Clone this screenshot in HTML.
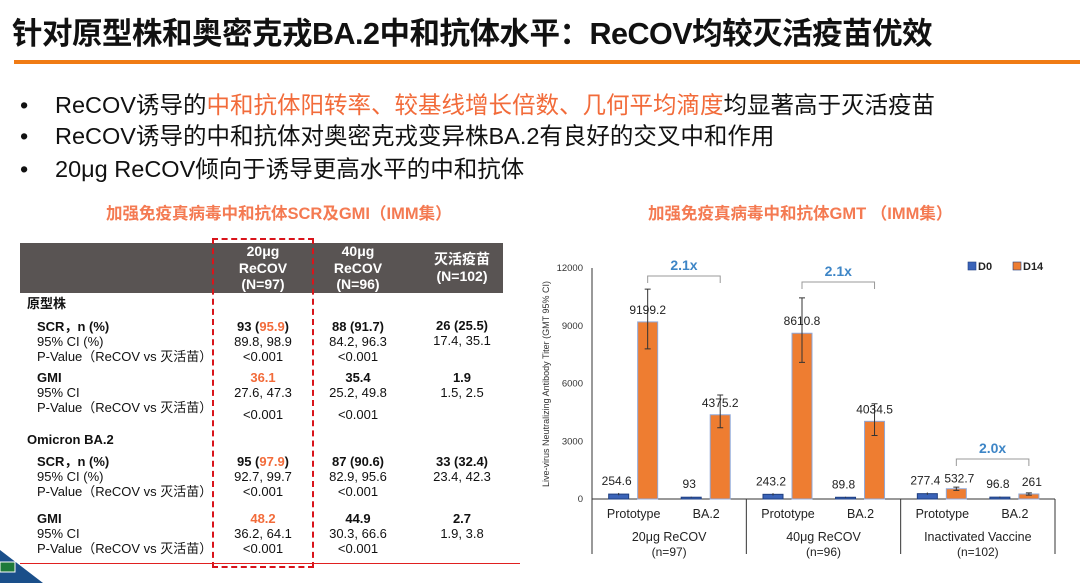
<!DOCTYPE html>
<html><head><meta charset="utf-8"><style>
*{margin:0;padding:0;box-sizing:border-box}
body{width:1080px;height:583px;background:#fff;position:relative;overflow:hidden;font-family:"Liberation Sans","Noto Sans CJK SC",sans-serif;color:#111}
.a{position:absolute;white-space:nowrap}
.c{text-align:center;transform:translateX(-50%)}
.or{color:#f26b3a}
.t{font-size:13px;line-height:15px}
.b{font-weight:bold}
</style></head><body>
<div class="a b" style="left:12px;top:9px;font-size:30.5px;letter-spacing:-0.5px">针对原型株和奥密克戎BA.2中和抗体水平：ReCOV均较灭活疫苗优效</div>
<div class="a" style="left:14px;top:60px;width:1066px;height:4px;background:#f07b14"></div>
<div class="a" style="left:20px;top:86px;font-size:23.5px"><span style="display:inline-block;width:35px">•</span>ReCOV诱导的<span class="or">中和抗体阳转率、较基线增长倍数、几何平均滴度</span>均显著高于灭活疫苗</div>
<div class="a" style="left:20px;top:117px;font-size:23.5px"><span style="display:inline-block;width:35px">•</span>ReCOV诱导的中和抗体对奥密克戎变异株BA.2有良好的交叉中和作用</div>
<div class="a" style="left:20px;top:150px;font-size:23.5px"><span style="display:inline-block;width:35px">•</span>20μg ReCOV倾向于诱导更高水平的中和抗体</div>
<div class="a b or" style="left:106px;top:200px;font-size:16.5px;color:#f47a52">加强免疫真病毒中和抗体SCR及GMI（IMM集）</div>
<div class="a b or" style="left:648px;top:200px;font-size:16.5px;color:#f47a52">加强免疫真病毒中和抗体GMT （IMM集）</div>

<div class="a" style="left:20px;top:243px;width:483px;height:50px;background:#595453"></div>
<div class="a c b" style="left:263px;top:243px;color:#fff;font-size:14px;line-height:16.5px">20μg<br>ReCOV<br>(N=97)</div>
<div class="a c b" style="left:358px;top:243px;color:#fff;font-size:14px;line-height:16.5px">40μg<br>ReCOV<br>(N=96)</div>
<div class="a c b" style="left:462px;top:251px;color:#fff;font-size:14px;line-height:16.5px">灭活疫苗<br>(N=102)</div>
<div class="a" style="left:212px;top:238px;width:102px;height:330px;border:2px dashed #d9141b"></div>

<div class="a b t" style="left:27px;top:296px">原型株</div>
<div class="a t" style="left:37px;top:319px"><b>SCR，n (%)</b><br>95% CI (%)<br>P-Value（ReCOV vs 灭活苗）</div>
<div class="a t" style="left:37px;top:370px"><b>GMI</b><br>95% CI<br>P-Value（ReCOV vs 灭活苗）</div>
<div class="a b t" style="left:27px;top:432px">Omicron BA.2</div>
<div class="a t" style="left:37px;top:454px"><b>SCR，n (%)</b><br>95% CI (%)<br>P-Value（ReCOV vs 灭活苗）</div>
<div class="a t" style="left:37px;top:511px"><b>GMI</b><br>95% CI<br>P-Value（ReCOV vs 灭活苗）</div>

<div class="a c t" style="left:263px;top:319px"><b>93 (<span class="or">95.9</span>)</b><br>89.8, 98.9<br>&lt;0.001</div>
<div class="a c t" style="left:358px;top:319px"><b>88 (91.7)</b><br>84.2, 96.3<br>&lt;0.001</div>
<div class="a c t" style="left:462px;top:318px"><b>26 (25.5)</b><br>17.4, 35.1</div>
<div class="a c t" style="left:263px;top:370px"><b class="or">36.1</b><br>27.6, 47.3</div>
<div class="a c t" style="left:358px;top:370px"><b>35.4</b><br>25.2, 49.8</div>
<div class="a c t" style="left:462px;top:370px"><b>1.9</b><br>1.5, 2.5</div>
<div class="a c t" style="left:263px;top:407px">&lt;0.001</div>
<div class="a c t" style="left:358px;top:407px">&lt;0.001</div>
<div class="a c t" style="left:263px;top:454px"><b>95 (<span class="or">97.9</span>)</b><br>92.7, 99.7<br>&lt;0.001</div>
<div class="a c t" style="left:358px;top:454px"><b>87 (90.6)</b><br>82.9, 95.6<br>&lt;0.001</div>
<div class="a c t" style="left:462px;top:454px"><b>33 (32.4)</b><br>23.4, 42.3</div>
<div class="a c t" style="left:263px;top:511px"><b class="or">48.2</b><br>36.2, 64.1<br>&lt;0.001</div>
<div class="a c t" style="left:358px;top:511px"><b>44.9</b><br>30.3, 66.6<br>&lt;0.001</div>
<div class="a c t" style="left:462px;top:511px"><b>2.7</b><br>1.9, 3.8</div>
<div class="a" style="left:20px;top:563px;width:500px;height:1px;background:#e02020"></div>
<svg class="a" style="left:0;top:0" width="60" height="583"><polygon points="0,550 0,583 43,583" fill="#1a4f8a"/><rect x="0" y="562" width="15" height="10" fill="#1e7a3a" stroke="#fff" stroke-width="1"/></svg>

<svg id="chart" class="a" style="left:0;top:0" width="1080" height="583"></svg>
<script>
const groups=["20μg ReCOV","40μg ReCOV","Inactivated Vaccine"];
const groupN=["(n=97)","(n=96)","(n=102)"];
const strains=["Prototype","BA.2"];
const d0=[254.6,93,243.2,89.8,277.4,96.8];
const d14=[9199.2,4375.2,8610.8,4034.5,532.7,261];
const d14Lo=[7800,3700,7100,3300,450,200];
const d14Hi=[10900,5400,10450,4950,620,320];
const d0Err=[60,25,60,25,60,30];
const yTicks=[0,3000,6000,9000,12000];
const folds=["2.1x","2.1x","2.0x"];
const NS="http://www.w3.org/2000/svg";
const svg=document.getElementById('chart');
const x0=592,x1=1055,y0=499,yTop=268,yMax=12000;
const gw=(x1-x0)/groups.length;
const y=v=>y0-(v/yMax)*(y0-yTop);
const catX=i=>x0+Math.floor(i/2)*gw+(i%2===0?0.27:0.74)*gw;
function mk(t,a,txt){const e=document.createElementNS(NS,t);for(const k in a)e.setAttribute(k,a[k]);if(txt!==undefined)e.textContent=txt;svg.appendChild(e);return e;}
let e;
e=mk('line',{x1:x0,y1:yTop,x2:x0,y2:554,stroke:'#333','stroke-width':1});


e=mk('line',{x1:x0,y1:y0,x2:x1,y2:y0,stroke:'#333','stroke-width':1});


yTicks.forEach(v=>{e=mk('text',{x:x0-9,y:y(v)+3,'text-anchor':'end','font-size':9.5,fill:'#333'},String(v));

});
e=mk('text',{x:549,y:384,'text-anchor':'middle','font-size':9,fill:'#333',transform:'rotate(-90 549 384)'},'Live-virus Neutralizing Antibody Titer (GMT 95% CI)');


for(let g=1;g<=groups.length;g++){e=mk('line',{x1:x0+g*gw,y1:y0,x2:x0+g*gw,y2:554,stroke:'#333','stroke-width':1});

}
groups.forEach((g,i)=>{const cx=x0+(i+0.5)*gw;
e=mk('text',{x:cx,y:541,'text-anchor':'middle','font-size':12.5,fill:'#222'},g);


e=mk('text',{x:cx,y:556,'text-anchor':'middle','font-size':12,fill:'#222'},groupN[i]);

});
const bw=20;
d0.forEach((v,i)=>{const cx=catX(i);
e=mk('text',{x:cx,y:518,'text-anchor':'middle','font-size':12.5,fill:'#222'},strains[i%2]);


e=mk('rect',{x:cx-25,y:y(v),width:bw,height:y0-y(v),fill:'#3a63b8',stroke:'#1f3f80','stroke-width':1});


e=mk('line',{x1:cx-15,y1:y(v+d0Err[i]),x2:cx-15,y2:y(v-d0Err[i]),stroke:'#333'});


e=mk('text',{x:cx-17,y:y(v)-9,'text-anchor':'middle','font-size':12,fill:'#222'},String(v));


const w=d14[i];
e=mk('rect',{x:cx+4,y:y(w),width:bw,height:y0-y(w),fill:'#ee7d31',stroke:'#8fa8d8','stroke-width':1});


const ex=cx+14;
e=mk('path',{d:`M${ex},${y(d14Hi[i])}V${y(d14Lo[i])}M${ex-3},${y(d14Hi[i])}H${ex+3}M${ex-3},${y(d14Lo[i])}H${ex+3}`,stroke:'#333',fill:'none'});


const ly=i>=4?y(d0[i])-11:y(w)-8;
e=mk('text',{x:ex+(i>=4?3:0),y:ly,'text-anchor':'middle','font-size':12,fill:'#222'},String(w));

});
folds.forEach((f,g)=>{const a=catX(2*g)+14,b=catX(2*g+1)+14;
const byy=g===0?276:(g===1?282:459);
e=mk('path',{d:`M${a},${byy+7}V${byy}H${b}V${byy+7}`,stroke:'#999',fill:'none'});


e=mk('text',{x:(a+b)/2,y:byy-6,'text-anchor':'middle','font-size':14,'font-weight':'bold',fill:'#3d85c6'},f);

});
[['D0','#3a63b8',968],['D14','#ee7d31',1013]].forEach(([t,c,lx])=>{
e=mk('rect',{x:lx,y:262,width:8,height:8,fill:c,stroke:'#1f3f80','stroke-width':0.6});


e=mk('text',{x:lx+10,y:270,'font-size':11,'font-weight':'bold',fill:'#222'},t);

});
</script>
</body></html>
